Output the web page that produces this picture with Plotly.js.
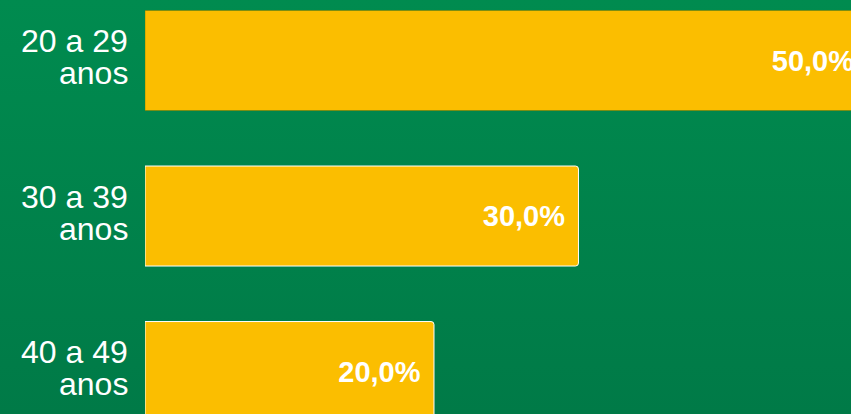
<!DOCTYPE html>
<html>
<head>
<meta charset="utf-8">
<script src="https://cdn.plot.ly/plotly-3.0.1.min.js"></script>
<style>
html,body{margin:0;padding:0;}
#chart{width:851px;height:414px;background:linear-gradient(to bottom,#008B4F,#007A47);}
</style>
</head>
<body>
<div id="chart"></div>
<script>
const categories = ["20 a 29<br>anos", "30 a 39<br>anos", "40 a 49<br>anos"];
const values = [50.0, 30.0, 20.0];
const valueLabels = values.map(v => v.toFixed(1).replace('.', ',') + '%\u00a0\u200a');
const outlineColors = ['rgba(120,120,0,0.5)', '#ffffff', '#ffffff'];

const labelFont = {family: 'Liberation Sans, Arial, sans-serif', size: 32, color: '#ffffff'};

const trace = {
  type: 'bar',
  orientation: 'h',
  y: categories,
  x: values,
  width: 0.643,
  text: valueLabels,
  textposition: 'inside',
  insidetextanchor: 'end',
  textangle: 0,
  textfont: {family: 'Liberation Sans, Arial, sans-serif', size: 29, color: '#ffffff', weight: 'bold'},
  marker: {color: '#FBBE00', line: {color: outlineColors, width: 1}, cornerradius: 3},
  hoverinfo: 'none',
  cliponaxis: true
};

// category labels: two lines each, drawn with tighter line spacing
const annotations = [];
categories.forEach(c => {
  const lines = c.split('<br>');
  lines.forEach((ln, i) => {
    annotations.push({
      xref: 'paper', x: 0, xanchor: 'right', xshift: -15,
      yref: 'y', y: c, yanchor: 'middle',
      yshift: i === 0 ? 19.5 : -12.5,
      text: ln, showarrow: false, font: labelFont
    });
  });
});

const layout = {
  width: 851,
  height: 414,
  margin: {l: 145, r: 0, t: 0, b: 0, pad: 0},
  paper_bgcolor: 'rgba(0,0,0,0)',
  plot_bgcolor: 'rgba(0,0,0,0)',
  showlegend: false,
  xaxis: {range: [0, 48.86], visible: false, fixedrange: true},
  yaxis: {
    type: 'category',
    range: [2.273, -0.389],
    showgrid: false, zeroline: false, showline: false,
    ticks: '', showticklabels: false
  },
  annotations: annotations
};

Plotly.newPlot('chart', [trace], layout, {displayModeBar: false, staticPlot: true});
</script>
</body>
</html>
